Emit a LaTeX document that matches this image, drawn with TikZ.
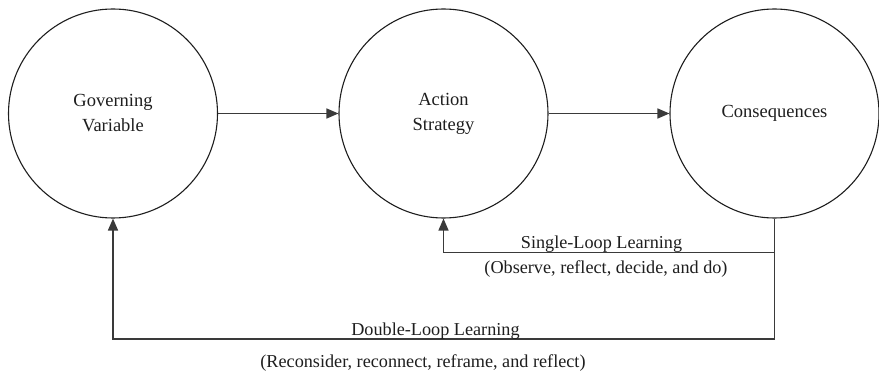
\documentclass[tikz,border=0pt]{standalone}
\usepackage{fontspec}
\setmainfont{Liberation Serif}
\usetikzlibrary{arrows.meta}
\definecolor{ink}{HTML}{1E1E1E}
\definecolor{wire}{HTML}{3A3A3A}
\begin{document}
\begin{tikzpicture}[x=1pt,y=-1pt,
  stage/.style={circle,draw=ink,line width=1.1pt,minimum size=209pt,inner sep=0pt,
    align=center,text=ink,font=\fontsize{18.5}{25}\selectfont},
  link/.style={draw=wire,line width=1.5pt,-{Triangle[length=12pt,width=10pt]}},
  plain/.style={draw=wire,line width=1.5pt},
  lbl/.style={anchor=base,text=ink,inner sep=0pt,font=\fontsize{18.2}{22}\selectfont}]
\useasboundingbox (0,0) rectangle (879,377);
\node[stage] (g) at (113,113.5) {Governing\\Variable};
\node[stage] (a) at (443.5,113.5) {Action\\Strategy};
\node[stage] (c) at (774.5,113.5) {Consequences};
\draw[link] (g) -- (a);
\draw[link] (a) -- (c);
\coordinate (sj) at (774.5,252.5);
\coordinate (dj) at (774.5,339);
\draw[plain] (c.south) -- (dj);
\draw[link] (dj) -| (g.south);
\draw[link] (sj) -| (a.south);
\node[lbl] (sl) at (601.5,248) {Single-Loop Learning};
\node[lbl] (so) at (606,273) {(Observe, reflect, decide, and do)};
\node[lbl] (dl) at (435.5,335) {Double-Loop Learning};
\node[lbl] (do) at (423,367) {(Reconsider, reconnect, reframe, and reflect)};
\end{tikzpicture}
\end{document}
